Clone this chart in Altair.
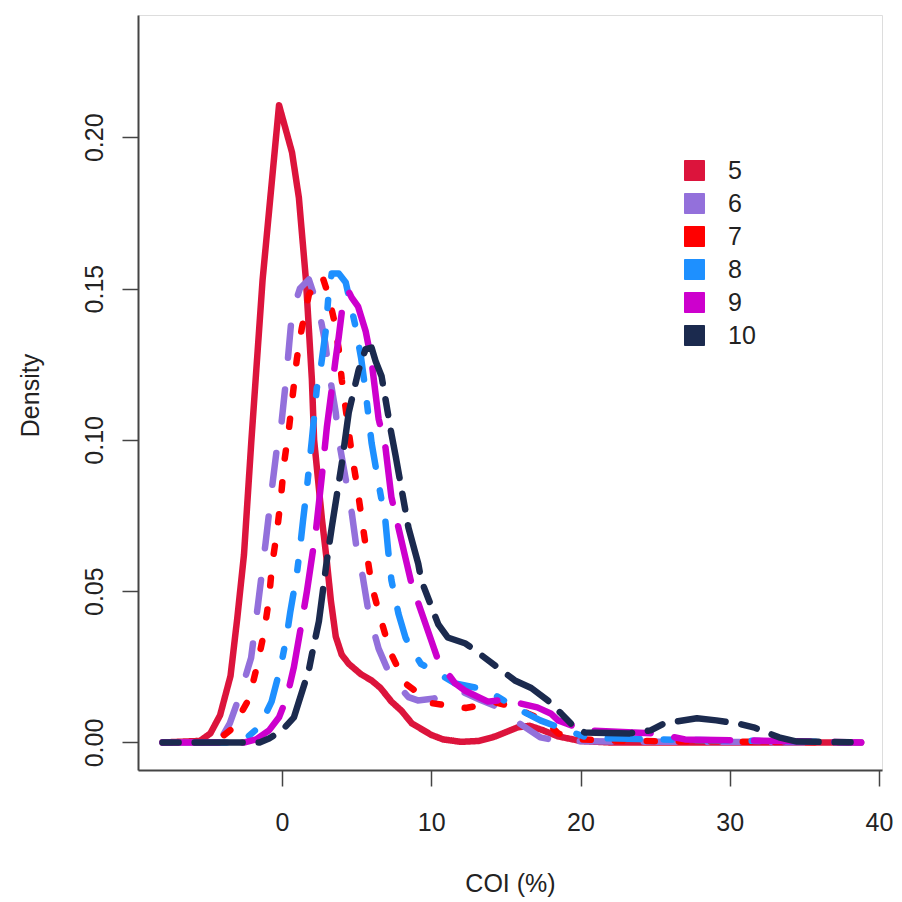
import altair as alt
import pandas as pd

# ---- data ----
series_names = ["5", "6", "7", "8", "9", "10"]
colors = ["#DC143C", "#9370DB", "#FF0000", "#1E90FF", "#CD00CD", "#1B2A4E"]
dashes = [[1, 0], [32, 32], [8, 24], [8, 24, 32, 24], [56, 24], [16, 16, 48, 16]]

x_ticks = [0, 10, 20, 30, 40]
y_ticks = [0.0, 0.05, 0.10, 0.15, 0.20]

s5_x = [-8, -5.5, -4.8, -4.15, -3.45, -3.0, -2.55, -2.05, -1.3, -0.67, -0.2, 0.67, 1.13, 1.6, 2.0, 2.15, 2.67,
        3.0, 3.27, 3.6, 4.0, 4.47, 5.3, 6.0, 6.6, 7.33, 8.0, 8.7, 10.0, 10.8, 12.0, 13.2, 14.3, 15.8, 16.6,
        17.5, 18.5, 20, 22, 38.8]
s5_y = [0, 0.0005, 0.003, 0.009, 0.022, 0.041, 0.062, 0.100, 0.153, 0.186, 0.2106, 0.195, 0.180, 0.153, 0.120,
        0.100, 0.074, 0.060, 0.047, 0.035, 0.029, 0.026, 0.0225, 0.0205, 0.018, 0.0135, 0.0105, 0.0063, 0.0025,
        0.001, 0.0002, 0.0005, 0.002, 0.005, 0.0055, 0.004, 0.002, 0.0005, 0, 0]

s6_x = [-8, -4.6, -4.0, -3.5, -2.8, -2.07, -1.6, -1.1, -0.7, -0.35, -0.07, 0.27, 0.67, 1.2, 1.8, 2.47, 2.9, 3.1,
        3.6, 3.8, 4.27, 4.67, 5.0, 5.4, 5.8, 6.47, 7.3, 8.47, 9.1, 10.2, 11.3, 12.2, 13.3, 14.3, 15.3, 16.3,
        17.3, 18.5, 22, 38.8]
s6_y = [0, 0, 0.002, 0.0063, 0.016, 0.028, 0.046, 0.066, 0.083, 0.097, 0.104, 0.120, 0.142, 0.150, 0.153, 0.143,
        0.132, 0.124, 0.109, 0.100, 0.087, 0.076, 0.064, 0.055, 0.043, 0.031, 0.0215, 0.015, 0.0139, 0.0145,
        0.017, 0.0165, 0.014, 0.012, 0.0083, 0.005, 0.0017, 0.0005, 0.0003, 0]

s7_x = [-8, -4.5, -3.33, -2.2, -1.67, -1.2, -0.87, -0.67, -0.33, -0.07, 0.13, 0.47, 1.0, 1.33, 1.8, 2.3, 2.7,
        3.1, 3.47, 3.8, 4.0, 4.67, 5.0, 5.33, 5.67, 6.0, 6.6, 7.27, 8.27, 10.0, 12.3, 14.3, 15.5, 16.5, 17.6,
        18.5, 20, 23, 38.8]
s7_y = [0, 0, 0.0046, 0.0145, 0.0254, 0.0364, 0.0476, 0.0585, 0.070, 0.081, 0.092, 0.104, 0.127, 0.137, 0.148,
        0.152, 0.154, 0.148, 0.140, 0.130, 0.120, 0.0955, 0.0856, 0.0743, 0.0628, 0.052, 0.041, 0.0297, 0.0195,
        0.013, 0.0114, 0.0132, 0.0118, 0.0095, 0.0073, 0.003, 0.001, 0.0005, 0]

s8_x = [-8, -3.2, -2.5, -1.5, -0.7, -0.1, 0.3, 0.55, 1.0, 1.2, 1.4, 1.7, 2.0, 2.33, 2.6, 2.93, 3.1, 3.33, 3.8,
        4.27, 4.9, 5.3, 5.6, 6.0, 6.47, 6.93, 7.13, 7.33, 7.8, 8.27, 8.47, 9.3, 10.47, 11.6, 13.1, 13.8, 16.0,
        17.3, 19.1, 20.5, 25, 38.8]
s8_y = [0, 0, 0.001, 0.0053, 0.0135, 0.0248, 0.0347, 0.043, 0.056, 0.064, 0.073, 0.0856, 0.100, 0.117, 0.124,
        0.136, 0.147, 0.155, 0.155, 0.152, 0.138, 0.127, 0.116, 0.099, 0.0856, 0.073, 0.0625, 0.0536, 0.0426,
        0.0347, 0.0327, 0.026, 0.0228, 0.0195, 0.018, 0.017, 0.0106, 0.0073, 0.004, 0.0015, 0.001, 0]

s9_x = [-8, -2.5, -1.73, -0.87, -0.2, 0.33, 0.8, 1.33, 1.67, 2.27, 2.67, 3.0, 3.6, 3.8, 4.0, 4.47, 4.67, 5.1,
        5.6, 6.0, 6.47, 6.93, 7.33, 8.27, 8.67, 10.0, 10.47, 11.6, 12.3, 13.8, 14.5, 15.1, 17.1, 18.0, 18.5,
        20.3, 25, 27, 38.8]
s9_y = [0, 0, 0.001, 0.004, 0.0083, 0.015, 0.025, 0.040, 0.050, 0.070, 0.088, 0.104, 0.127, 0.134, 0.142, 0.149,
        0.147, 0.144, 0.136, 0.126, 0.107, 0.0975, 0.081, 0.061, 0.0526, 0.0337, 0.027, 0.0195, 0.017, 0.0135,
        0.0139, 0.0139, 0.0116, 0.0096, 0.0073, 0.004, 0.003, 0.001, 0]

s10_x = [-8, -1.5, -0.87, 0, 0.8, 1.8, 2.0, 2.47, 3.0, 3.33, 4.0, 4.47, 5.13, 5.6, 6.0, 6.27, 6.67, 7.33, 7.6,
         8.47, 9.13, 9.33, 10.47, 11.1, 12.3, 13.1, 15.6, 16.7, 17.8, 18.7, 19.6, 20.3, 23.3, 24.7, 25.6, 27.8,
         29.1, 30.5, 31.6, 33.3, 34.5, 38.8]
s10_y = [0, 0, 0.0013, 0.004, 0.0083, 0.024, 0.029, 0.040, 0.060, 0.071, 0.092, 0.109, 0.123, 0.130, 0.1305,
         0.126, 0.121, 0.102, 0.095, 0.071, 0.059, 0.0536, 0.039, 0.0347, 0.0327, 0.0298, 0.0205, 0.018, 0.0139,
         0.0096, 0.005, 0.0033, 0.003, 0.004, 0.0063, 0.008, 0.0073, 0.0063, 0.005, 0.0017, 0.0003, 0]

all_x = [s5_x, s6_x, s7_x, s8_x, s9_x, s10_x]
all_y = [s5_y, s6_y, s7_y, s8_y, s9_y, s10_y]

FONT = "Liberation Sans"
TXT = "#222222"
AX = "#444444"

xscale = alt.Scale(domain=[-9.65, 40.2], nice=False, zero=False)
yscale = alt.Scale(domain=[-0.0091, 0.2404], nice=False, zero=False)

xaxis = alt.Axis(values=x_ticks, format="d", title="COI (%)", grid=False, tickSize=16, tickWidth=1.5,
                 tickColor=AX, domainColor=AX, domainWidth=2, labelPadding=24, labelFontSize=25,
                 labelFont=FONT, labelColor=TXT, labelFlush=False, labelOverlap=False,
                 titleFont=FONT, titleFontSize=25, titleFontWeight="normal", titleColor=TXT,
                 titleX=372, titleY=121, titleAlign="center", titleBaseline="alphabetic")
yaxis = alt.Axis(values=y_ticks, format=".2f", title="Density", grid=False, tickSize=16, tickWidth=1.5,
                 tickColor=AX, domainColor=AX, domainWidth=2, labelPadding=15, labelFontSize=25,
                 labelFont=FONT, labelColor=TXT, labelAngle=270, labelAlign="center",
                 labelBaseline="bottom", labelFlush=False, labelOverlap=False,
                 titleFont=FONT, titleFontSize=25, titleFontWeight="normal", titleColor=TXT,
                 titleAngle=270, titleX=-100, titleY=380, titleAlign="center", titleBaseline="alphabetic")

legend = alt.Legend(title=None, orient="none", legendX=544, legendY=143, symbolType="square",
                    symbolSize=400, symbolStrokeColor="#222222", symbolStrokeWidth=1, symbolOpacity=1,
                    labelFontSize=25, labelFont=FONT, labelColor=TXT, labelOffset=21,
                    rowPadding=7, padding=0)

color_enc = alt.Color("series:N", scale=alt.Scale(domain=series_names, range=colors), legend=legend)

# legend carrier layer (no rows), gives filled square swatches
legend_layer = alt.Chart(alt.Data(values=[])).mark_point(filled=True, shape="square", opacity=1).encode(
    x=alt.X("x:Q", scale=xscale, axis=xaxis),
    y=alt.Y("y:Q", scale=yscale, axis=yaxis),
    color=color_enc,
)

layers = [legend_layer]
for name, xs, ys, dash in zip(series_names, all_x, all_y, dashes):
    df = pd.DataFrame({"x": xs, "y": ys, "series": name})
    layers.append(
        alt.Chart(df).mark_line(strokeWidth=6.5, strokeCap="round", strokeJoin="round",
                                strokeDash=dash).encode(
            x=alt.X("x:Q", scale=xscale, axis=xaxis),
            y=alt.Y("y:Q", scale=yscale, axis=yaxis),
            color=color_enc,
            order=alt.Order("x:Q"),
        )
    )

chart = alt.layer(*layers).properties(
    width=744, height=755,
    padding={"left": 130, "top": 7, "right": 12, "bottom": 128},
    autosize=alt.AutoSizeParams(type="none"),
    background="white",
).configure_view(stroke=None).configure(font=FONT)

chart.save("out.html", embed_options={"renderer": "svg", "actions": False})
